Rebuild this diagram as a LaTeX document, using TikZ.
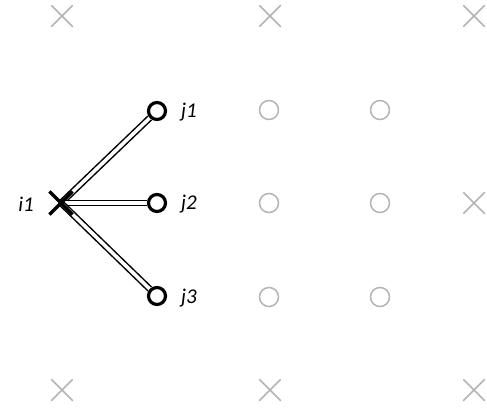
\documentclass[tikz,border=0pt]{standalone}
\usepackage{fontspec}
\setmainfont{Carlito}
\usetikzlibrary{shapes.misc}
\pgfdeclarelayer{bg}
\pgfsetlayers{bg,main}
\definecolor{lightgr}{HTML}{B4B4B4}
\tikzset{
  grayx/.style={cross out, draw=lightgr, line width=1.5pt, minimum size=20pt, inner sep=0pt},
  grayo/.style={circle, draw=lightgr, line width=1.5pt, minimum size=19pt, inner sep=0pt},
  blackx/.style={cross out, draw=black, line width=3.2pt, minimum size=20pt, inner sep=0pt},
  blacko/.style={circle, draw=black, line width=3.2pt, minimum size=17pt, inner sep=0pt, fill=white},
  lbl/.style={font=\fontsize{21pt}{24pt}\selectfont\itshape, inner sep=0pt},
  dbl/.style={draw=black, line width=1.5pt, double=white, double distance=3.6pt}
}
\begin{document}
\begin{tikzpicture}[x=1pt,y=-1pt]
\useasboundingbox (0,0) rectangle (487,410);
% gray grid marks
\node[grayx] (t1) at (62,16) {};
\node[grayx] (t2) at (270,16) {};
\node[grayx] (t3) at (474,16) {};
\node[grayx] (b1) at (62,390) {};
\node[grayx] (b2) at (270,390) {};
\node[grayx] (b3) at (474,390) {};
\node[grayx] (m3) at (474,203) {};
\node[grayo] (g11) at (269,110) {};
\node[grayo] (g12) at (380,110) {};
\node[grayo] (g21) at (269,203) {};
\node[grayo] (g22) at (380,203) {};
\node[grayo] (g31) at (269,297) {};
\node[grayo] (g32) at (380,297) {};
% black nodes
\node[blackx] (i1) at (61,203) {};
\node[blacko] (j1) at (157,111) {};
\node[blacko] (j2) at (157,203) {};
\node[blacko] (j3) at (157,296) {};
% labels
\node[lbl] (li1) at (26,204) {i1};
\node[lbl] (lj1) at (189,112) {j1};
\node[lbl] (lj2) at (189,204) {j2};
\node[lbl] (lj3) at (189,298) {j3};
% connectors
\begin{pgfonlayer}{bg}
\draw[dbl] (i1.center) -- (j1);
\draw[dbl] (i1.center) -- (j2);
\draw[dbl] (i1.center) -- (j3);
\end{pgfonlayer}
\end{tikzpicture}
\end{document}
